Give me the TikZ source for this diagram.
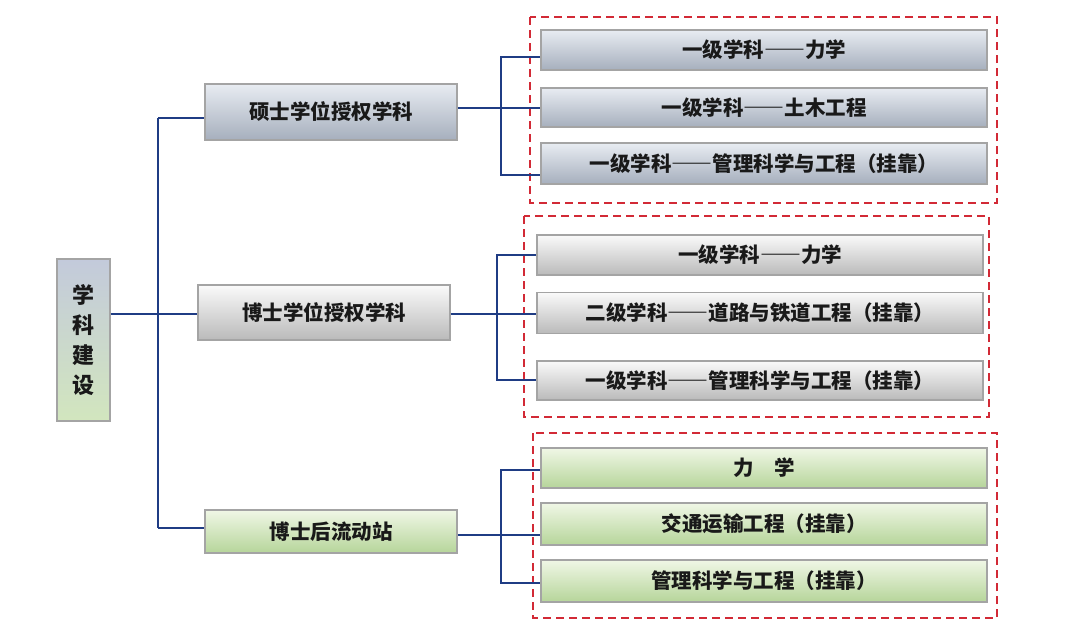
\documentclass[tikz,border=0pt]{standalone}
\usepackage{fontspec}
\setmainfont{Noto Sans CJK SC}
\newfontfamily\dashfont[RawFeature=+fwid]{Noto Sans CJK SC}
\newcommand\dd{{\dashfont ——}}
\definecolor{linkc}{HTML}{1F3C84}
\definecolor{framec}{HTML}{D22A36}
\definecolor{bordc}{HTML}{A4A4A4}
\definecolor{bluet}{HTML}{E8ECF2}
\definecolor{bluem}{HTML}{CDD3DD}
\definecolor{blueb}{HTML}{A6AFBD}
\definecolor{grayt}{HTML}{FAFAFA}
\definecolor{graym}{HTML}{E2E2E2}
\definecolor{grayb}{HTML}{BABABA}
\definecolor{greent}{HTML}{F0F7E6}
\definecolor{greenm}{HTML}{D6E9C2}
\definecolor{greenb}{HTML}{B6D59A}
\definecolor{roott}{HTML}{C3CADB}
\definecolor{rootm}{HTML}{F4F6F8}
\definecolor{rootb}{HTML}{D2E6BE}
\begin{document}
\begin{tikzpicture}[x=1pt,y=-1pt,
  base/.style={draw=bordc,line width=1.8pt,inner sep=0pt,font=\bfseries\fontsize{20.5}{22}\selectfont,text=black!90},
  bluebox/.style={base,top color=bluet,middle color=bluem,bottom color=blueb},
  graybox/.style={base,top color=grayt,middle color=graym,bottom color=grayb},
  greenbox/.style={base,top color=greent,middle color=greenm,bottom color=greenb},
  frm/.style={draw=framec,line width=2.8pt,dash pattern=on 8pt off 5pt},
  lk/.style={draw=linkc,line width=1.9pt}]
\useasboundingbox (0,0) rectangle (1080,632);
\fill[white] (0,0) rectangle (1080,632);
% frames
\draw[frm] (530,17) rectangle (997,203);
\draw[frm] (524,216) rectangle (989,417);
\draw[frm] (533,433) rectangle (997,618);
% root
\node[base,minimum width=53pt,minimum height=162pt,top color=roott,middle color=rootm,bottom color=rootb,align=center,font=\bfseries\fontsize{22}{30}\selectfont] (root) at (83.5,340) {学\\科\\建\\设};
% level 1
\node[bluebox,minimum width=252pt,minimum height=56pt,font=\bfseries\fontsize{20.5}{22}\selectfont] (a) at (331,112) {硕士学位授权学科};
\node[graybox,minimum width=252pt,minimum height=55pt,font=\bfseries\fontsize{20.5}{22}\selectfont] (b) at (324,312.5) {博士学位授权学科};
\node[greenbox,minimum width=252pt,minimum height=43pt,font=\bfseries\fontsize{20.5}{22}\selectfont] (c) at (331,531.5) {博士后流动站};
% level 2 group 1
\node[bluebox,minimum width=446pt,minimum height=40pt] (a1) at (764,50) {一级学科\dd 力学};
\node[bluebox,minimum width=446pt,minimum height=39pt] (a2) at (764,107.5) {一级学科\dd 土木工程};
\node[bluebox,minimum width=446pt,minimum height=41pt] (a3) at (764,163.5) {一级学科\dd 管理科学与工程（挂靠）};
% group 2
\node[graybox,minimum width=446pt,minimum height=40pt] (b1) at (760,255) {一级学科\dd 力学};
\node[graybox,minimum width=446pt,minimum height=41pt] (b2) at (760,313) {二级学科\dd 道路与铁道工程（挂靠）};
\node[graybox,minimum width=446pt,minimum height=39pt] (b3) at (760,380.5) {一级学科\dd 管理科学与工程（挂靠）};
% group 3
\node[greenbox,minimum width=446pt,minimum height=40pt] (c1) at (764,468) {力\quad 学};
\node[greenbox,minimum width=446pt,minimum height=42pt] (c2) at (764,524) {交通运输工程（挂靠）};
\node[greenbox,minimum width=446pt,minimum height=42pt] (c3) at (764,581) {管理科学与工程（挂靠）};
% trunk
\coordinate (t0) at (158,314);
\coordinate (ta) at (158,118);
\coordinate (tc) at (158,528);
\draw[lk] (root.east |- t0) -- (b.west |- t0);
\draw[lk] (ta) -- (tc);
\draw[lk] (ta) -- (a.west |- ta);
\draw[lk] (tc) -- (c.west |- tc);
% group 1 bracket
\coordinate (ga) at (501,108);
\draw[lk] (a.east |- ga) -- (a2.west |- ga);
\draw[lk] (a1.west |- 0,57) -| (501,175) -- (a3.west |- 0,175);
% group 2 bracket
\draw[lk] (b.east |- 0,314) -- (b2.west |- 0,314);
\draw[lk] (b1.west |- 0,255) -| (497,380) -- (b3.west |- 0,380);
% group 3 bracket
\draw[lk] (c.east |- 0,535) -- (c2.west |- 0,535);
\draw[lk] (c1.west |- 0,470) -| (501,583) -- (c3.west |- 0,583);
\end{tikzpicture}
\end{document}
